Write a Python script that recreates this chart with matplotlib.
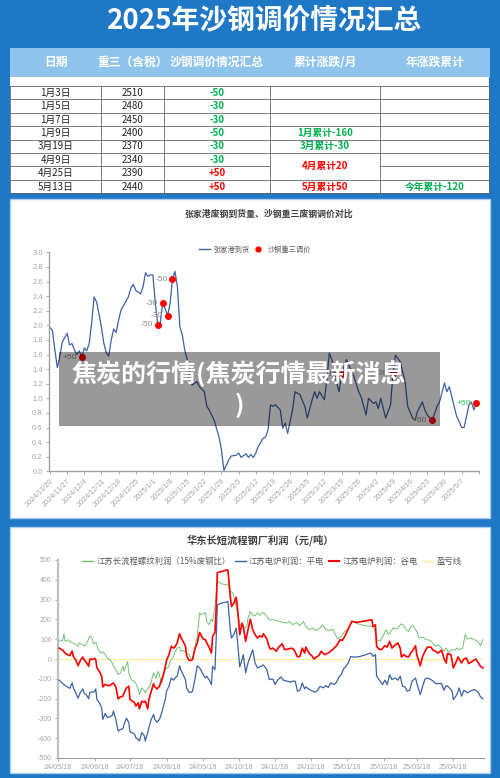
import pandas as pd
import matplotlib
matplotlib.use("Agg")
import matplotlib.pyplot as plt
from matplotlib.patches import Rectangle
from matplotlib.lines import Line2D

plt.rcParams['font.family'] = ['Noto Sans CJK SC', 'DejaVu Sans']

# ---- table data ----
title = "2025年沙钢调价情况汇总"
headers = ["日期", "重三（含税）", "沙钢调价情况汇总", "累计涨跌/月", "年涨跌累计"]
adj_dates = ["1月3日", "1月5日", "1月7日", "1月9日", "3月19日", "4月9日", "4月25日", "5月13日"]
adj_price = [2510, 2480, 2450, 2400, 2370, 2340, 2390, 2440]
adj_change = [-50, -30, -30, -50, -30, -30, 50, 50]
month_notes = ["", "", "", "1月累计-160", "3月累计-30", "4月累计20", None, "5月累计50"]  # None = merged with row above
year_notes = ["", "", "", "", "", "", "", "今年累计-120"]

# ---- chart 1: 张家港到货 (days after 2024-11-20) ----
zjg_days = [0, 1, 2, 3, 4, 5, 7, 8, 9, 10, 11, 12, 13, 14, 15, 16, 17, 18, 19, 20, 21, 22, 23, 24, 25, 26, 27, 28, 29, 30,
            32, 33, 34, 35, 37, 38, 39, 40, 41, 42, 43, 44, 45, 46, 47, 48, 49, 50, 51, 52, 53, 54, 55, 56, 57, 58, 60, 61,
            63, 64, 65, 67, 69, 70, 71, 73, 74, 76, 77, 78, 80, 81, 82, 83, 84, 85, 87, 88, 89, 90, 91, 92, 94, 95, 96, 97,
            99, 100, 102, 104, 105, 107, 108, 109, 110, 112, 113, 114, 115, 116, 117, 118, 119, 121, 124, 126, 127, 129,
            130, 132, 133, 134, 135, 137, 139, 140, 141, 143, 145, 146, 148, 149, 150, 152, 153, 154, 156, 158, 159, 161,
            162, 163, 164, 166, 167, 168, 169, 170, 171, 172, 173, 174]
zjg_vals = [1.97, 1.93, 1.66, 1.42, 1.57, 1.77, 1.89, 1.73, 1.75, 1.66, 1.60, 1.65, 1.56, 1.69, 1.65, 1.75, 2.03, 2.39,
            2.32, 2.16, 1.97, 1.75, 1.62, 1.58, 1.80, 1.95, 1.90, 2.07, 2.21, 2.27, 2.39, 2.51, 2.56, 2.48, 2.43, 2.53,
            2.72, 2.67, 2.69, 2.69, 2.30, 2.01, 2.03, 2.30, 2.23, 2.13, 2.30, 2.63, 2.74, 2.53, 1.98, 1.87, 1.66, 1.53,
            1.35, 1.18, 1.23, 1.16, 1.09, 0.89, 0.84, 0.70, 0.47, 0.29, 0.01, 0.16, 0.21, 0.22, 0.25, 0.19, 0.24, 0.19,
            0.23, 0.19, 0.25, 0.34, 0.45, 0.47, 0.57, 0.91, 0.89, 0.91, 0.84, 0.59, 0.66, 0.52, 0.84, 1.09, 1.05, 0.89,
            0.73, 0.98, 1.09, 1.00, 1.09, 0.98, 1.25, 1.62, 1.53, 1.41, 1.21, 1.09, 1.33, 1.53, 1.30, 1.09, 1.02, 0.77,
            1.00, 0.93, 0.95, 0.86, 1.00, 0.73, 0.91, 1.34, 1.59, 1.50, 1.21, 0.89, 0.73, 0.70, 0.82, 0.95, 0.84, 0.77,
            0.70, 0.89, 0.95, 1.21, 1.09, 1.16, 1.02, 0.75, 0.68, 0.60, 0.60, 0.75, 0.91, 0.95, 0.84, 0.93]
dot_days = [13, 44, 46, 48, 50, 119, 140, 156, 174]
dot_vals = [1.56, 2.01, 2.30, 2.13, 2.63, 1.33, 1.34, 0.70, 0.93]
dot_labels = ["+50", "-50", "-30", "-30", "-50", "-30", "-30", "+50", "+50"]

# ---- chart 2: 钢厂利润 (days after 2024-05-18) ----
near_days = [1, 4, 6, 8, 10, 12, 13, 15, 17, 19, 21, 22, 24, 26, 27, 29, 31, 32, 33, 35, 37, 38, 40, 42, 44, 46, 47, 49,
             51, 53, 55, 56, 58, 60, 61, 63, 65, 66, 68, 69, 71, 73, 74, 76, 77, 79, 81, 82, 84, 86, 87, 89, 91, 92, 94,
             96, 98, 99, 101, 103, 104, 106, 108, 109, 111, 113, 114, 116, 118, 120, 121, 123, 125, 126, 128, 130, 131,
             133, 134, 135, 138, 141, 144, 146, 147, 149, 151, 152, 154, 156, 157, 159, 161, 163, 165, 167, 169, 171,
             173, 174, 177, 179]
red_days = near_days + [180, 182, 185, 187, 190, 192, 195, 198, 200, 203, 205, 207, 209, 210, 213, 215, 217, 219, 221,
                        223, 226, 229, 232, 234, 236, 239, 241, 243, 245, 247, 249, 253, 256, 259, 263, 266, 267, 269,
                        270, 272, 274, 277, 279, 281, 283, 285, 288, 290, 291, 293, 295, 297, 299, 301, 303, 304, 307,
                        309, 311, 313, 316, 318, 320, 322, 325, 327, 329, 330, 333, 335, 337, 339, 342, 344, 346, 348,
                        351, 354, 356, 358, 360]
red_vals = [55, 44, 30, 22, 17, 40, 13, -3, -34, -7, 10, -3, -17, -37, 0, -3, 3, -3, -45, -62, -87, -141, -128, -134,
            -134, -124, -121, -141, -201, -191, -188, -171, -146, -138, -205, -213, -221, -238, -221, -252, -213, -218,
            -213, -252, -205, -163, -124, -141, -151, -138, -117, -87, -37, -7, 22, 64, 55, 60, 81, 128, 111, 89, 64,
            17, -7, -7, -3, 50, 81, 134, 123, 101, 97, 81, 60, 30, 114, 134, 248, 436, 441, 446, 450, 315, 265, 282,
            312, 265, 123, 181, 164, 89, 148, 201, 148, 123, 106, 117, 111, 128, 101, 60,
            50, 55, 39, 60, 77, 47, 50, 55, 47, 10, 13, 55, 30, 60, 27, 17, 0, 10, 17, 39, 22, 30, 44, 55, 67, 97, 94,
            114, 139, 164, 190, 185, 188, 191, 195, 198, 164, 173, 64, 50, 47, 67, 60, 89, 55, 67, 81, 55, 10, 22, 13,
            10, 30, 47, 67, 22, -34, 13, 39, 60, 60, 44, 39, 30, 44, 5, -20, 27, 22, -45, -20, 10, -20, 0, 5, -23,
            -12, 0, -17, -37, -45]
blue_days = near_days + [182, 184, 186, 189, 191, 194, 197, 199, 201, 203, 205, 207, 209, 210, 213, 216, 218, 220, 222,
                         225, 227, 229, 231, 234, 236, 238, 240, 242, 244, 246, 248, 250, 253, 256, 260, 263, 265, 267,
                         269, 270, 273, 275, 277, 279, 281, 283, 286, 288, 290, 292, 294, 296, 298, 300, 303, 304, 307,
                         309, 311, 313, 316, 318, 320, 322, 325, 327, 329, 331, 334, 335, 338, 340, 342, 344, 347, 349,
                         351, 353, 356, 358, 360]
blue_vals = [-107, -124, -134, -141, -148, -121, -146, -171, -198, -168, -151, -171, -181, -201, -168, -168, -164, -151,
             -205, -221, -247, -305, -275, -295, -292, -285, -263, -305, -364, -356, -352, -330, -299, -322, -369,
             -372, -381, -398, -406, -414, -372, -386, -414, -372, -347, -305, -280, -305, -319, -305, -289, -247,
             -201, -163, -138, -96, -107, -96, -87, -34, -54, -79, -104, -146, -168, -168, -163, -104, -34, -45, -54,
             -79, -96, -87, -104, -129, -37, -54, 97, 273, 282, 285, 290, 148, 106, 123, 156, 97, -40, -3, 22, -70,
             -20, 13, 47, -20, -45, -40, -34, -30, -54, -104,
             -101, -129, -107, -91, -107, -112, -117, -112, -112, -163, -158, -121, -151, -141, -154, -163, -168,
             -158, -138, -146, -134, -144, -121, -129, -117, -91, -79, -50, -37, -20, 13, 10, 10, 13, 20, 27, 30, 13,
             22, -87, -112, -129, -107, -129, -79, -104, -96, -107, -87, -138, -141, -163, -158, -112, -96, -121,
             -180, -138, -101, -96, -104, -112, -124, -124, -124, -158, -134, -141, -163, -205, -180, -146, -188,
             -158, -171, -163, -158, -154, -168, -191, -201]
green_days = [1, 4, 5, 6, 8, 10, 12, 14, 17, 18, 21, 23, 25, 27, 29, 30, 32, 34, 36, 38, 40, 42, 44, 46, 47, 49, 51, 53,
              55, 56, 59, 60, 62, 64, 66, 68, 69, 71, 73, 74, 76, 78, 79, 81, 83, 85, 86, 88, 90, 91, 94, 95, 98, 99,
              101, 103, 104, 106, 108, 109, 111, 113, 114, 116, 118, 120, 121, 123, 125, 126, 128, 130, 131, 133, 135,
              137, 139, 142, 144, 146, 148, 149, 151, 153, 155, 156, 158, 160, 161, 163, 165, 167, 169, 171, 173, 174,
              177, 179, 181, 185, 188, 191, 194, 196, 199, 202, 205, 208, 210, 213, 216, 218, 222, 224, 227, 230, 233,
              235, 237, 240, 243, 246, 249, 251, 254, 257, 261, 266, 268, 270, 273, 275, 278, 280, 282, 284, 287, 289,
              291, 293, 295, 297, 299, 301, 304, 306, 309, 312, 314, 317, 320, 322, 325, 327, 329, 331, 334, 336, 338,
              340, 343, 345, 347, 350, 353, 356, 358, 360]
green_vals = [90, 94, 128, 89, 97, 90, 81, 77, 64, 81, 70, 67, 87, 117, 104, 77, 84, 50, 30, 37, 22, 3, -3, -20, -37,
              -54, -79, -70, -37, -62, -12, -70, -104, -112, -124, -151, -180, -146, -158, -171, -151, -134, -112, -70,
              -96, -62, -84, -124, -70, -54, -37, -12, 13, 34, 55, 60, 39, 44, 34, 30, 22, 0, 3, 60, 114, 232, 223,
              228, 235, 190, 173, 201, 190, 265, 391, 386, 379, 376, 374, 341, 336, 315, 265, 206, 164, 173, 156, 164,
              206, 240, 223, 218, 232, 221, 232, 235, 215, 198,
              198, 195, 190, 185, 181, 190, 173, 185, 168, 190, 164, 148, 156, 144, 156, 173, 148, 144, 151, 123, 101,
              114, 139, 156, 190, 185, 178, 173, 168, 164, 156, 97, 89, 111, 148, 123, 139, 156, 151, 164, 178, 168,
              148, 139, 164, 168, 139, 106, 111, 97, 97, 84, 64, 72, 55, 39, 55, 34, 47, 44, 55, 47, 55, 123, 101, 106,
              97, 89, 67, 97]
breakeven = 0
legend2 = ["江苏长流程螺纹利润（15%废钢比）", "江苏电炉利润：平电", "江苏电炉利润：谷电", "盈亏线"]

overlay_text = "焦炭的行情(焦炭行情最新消息\n)"

W, H = 500, 778
BLUE_BG = "#1f78c6"
GREEN = "#00b050"
RED = "#ff0000"
GREY_TXT = "#a6a6a6"

fig = plt.figure(figsize=(5, 7.78), dpi=100)
fig.patch.set_facecolor(BLUE_BG)

bg = fig.add_axes([0, 0, 1, 1])
bg.set_xlim(0, W)
bg.set_ylim(H, 0)
bg.axis("off")

bg.text(265, 20, title, ha="center", va="center", color="white", fontsize=20, fontweight="bold")

# === table ===
cols = [10, 101, 164, 270, 380, 489]
bg.add_patch(Rectangle((10, 48), 480, 29, fc="#8ec4ec", ec="none"))
bg.add_patch(Rectangle((10, 77), 479, 116, fc="white", ec="none"))
for i, h in enumerate(headers):
    bg.text((cols[i] + cols[i + 1]) / 2, 62.5, h, ha="center", va="center", color="white",
            fontsize=8.5, fontweight="bold")

top0, rh = 86, 13.4
n = len(adj_dates)
for r in range(n + 1):
    y = top0 + r * rh
    if r < n and month_notes[r] is None:
        bg.plot([cols[0], cols[3]], [y, y], color="#666666", lw=0.6)
        bg.plot([cols[4], cols[5]], [y, y], color="#666666", lw=0.6)
    else:
        bg.plot([cols[0], cols[5]], [y, y], color="#666666", lw=0.6)
for x in cols:
    bg.plot([x, x], [top0, top0 + n * rh], color="#666666", lw=0.6)

for r in range(n):
    yc = top0 + (r + 0.5) * rh
    bg.text((cols[0] + cols[1]) / 2, yc, adj_dates[r], ha="center", va="center", fontsize=7, color="#222222")
    bg.text((cols[1] + cols[2]) / 2, yc, str(adj_price[r]), ha="center", va="center", fontsize=7, color="#222222")
    c = adj_change[r]
    bg.text((cols[2] + cols[3]) / 2, yc, f"{c:+d}", ha="center", va="center", fontsize=7,
            fontweight="bold", color=RED if c > 0 else GREEN)
    note = month_notes[r]
    if note:
        span = 2 if (r + 1 < n and month_notes[r + 1] is None) else 1
        bg.text((cols[3] + cols[4]) / 2, top0 + (r + span / 2) * rh, note, ha="center", va="center",
                fontsize=7, fontweight="bold", color=GREEN if "-" in note else RED)
    if year_notes[r]:
        bg.text((cols[4] + cols[5]) / 2, yc, year_notes[r], ha="center", va="center", fontsize=7,
                fontweight="bold", color=GREEN if "-" in year_notes[r] else RED)

# === panels ===
bg.add_patch(Rectangle((10, 199), 480, 319, fc="white", ec="#a8cdef", lw=1))
bg.add_patch(Rectangle((10, 527), 480, 246, fc="white", ec="#a8cdef", lw=1))

bg.text(269, 214, "张家港废钢到货量、沙钢重三废钢调价对比", ha="center", va="center",
        fontsize=6.4, fontweight="bold", color="#404040")
bg.text(260, 540, "华东长短流程钢厂利润（元/吨）", ha="center", va="center",
        fontsize=7.4, fontweight="bold", color="#404040")

# === chart 1 ===
start1 = pd.Timestamp("2024-11-20")
ax1 = fig.add_axes([49 / W, 1 - 471.3 / H, 430 / W, 219 / H])
ax1.patch.set_alpha(0)
x1 = start1 + pd.to_timedelta(zjg_days, unit="D")
ax1.plot(x1, zjg_vals, color="#3f62a3", lw=0.9)
xd = start1 + pd.to_timedelta(dot_days, unit="D")
ax1.plot(xd, dot_vals, "o", color="red", ms=4, ls="none")
for d, v, lab in zip(xd, dot_vals, dot_labels):
    col = "#22cc55" if d == xd[-1] else "#8c8c8c"
    ax1.annotate(lab, (d, v), xytext=(-3.5, 0), textcoords="offset points", ha="right", va="center",
                 fontsize=6, color=col, family="Liberation Sans")
ax1.set_xlim(start1 - pd.Timedelta(days=0.4), start1 + pd.Timedelta(days=175.1))
ax1.set_ylim(0, 3.0)
yt = [i / 10 for i in range(0, 31, 2)]
ax1.set_yticks(yt)
ax1.set_yticklabels([f"{v:.1f}" for v in yt], fontsize=5.5, color=GREY_TXT, family="Liberation Sans")
wk = pd.date_range(start1, periods=26, freq="7D")
ax1.set_xticks(wk)
ax1.set_xticklabels([f"{d.year}/{d.month}/{d.day}" for d in wk[:-1]] + [""], rotation=45,
                    ha="right", va="top", rotation_mode="anchor", fontsize=5.3, color=GREY_TXT,
                    family="Liberation Sans")
for s in ["top", "right"]:
    ax1.spines[s].set_visible(False)
for s in ["left", "bottom"]:
    ax1.spines[s].set_color("#a0a0a0")
    ax1.spines[s].set_linewidth(1)
ax1.tick_params(length=2.5, width=0.6, color="#a0a0a0", pad=2)
ax1.legend(handles=[Line2D([], [], color="#3f62a3", lw=1),
                    Line2D([], [], marker="o", ls="none", color="red", ms=3.5)],
           labels=["张家港到货", "沙钢重三调价"], loc="center", bbox_to_anchor=(255 / W, 1 - 250 / H),
           bbox_transform=fig.transFigure, ncol=2, frameon=False, fontsize=5.2, handlelength=1.5,
           handletextpad=0.5, columnspacing=0.4, borderpad=0, labelcolor="#595959")

# === chart 2 ===
start2 = pd.Timestamp("2024-05-18")
ax2 = fig.add_axes([58 / W, 1 - 758 / H, 426 / W, 198 / H])
ax2.patch.set_alpha(0)
ax2.axhline(breakeven, color="#f3eea0", lw=0.7, zorder=1)
ax2.plot(start2 + pd.to_timedelta(green_days, unit="D"), green_vals, color="#72c172", lw=0.7, zorder=2)
ax2.plot(start2 + pd.to_timedelta(blue_days, unit="D"), blue_vals, color="#3b63a6", lw=0.9, zorder=3)
ax2.plot(start2 + pd.to_timedelta(red_days, unit="D"), red_vals, color=RED, lw=1.2, zorder=4)
ax2.set_xlim(start2, start2 + pd.Timedelta(days=361))
ax2.set_ylim(-500, 500)
yt2 = list(range(-500, 501, 100))
ax2.set_yticks(yt2)
ax2.set_yticklabels([str(v) for v in yt2], fontsize=5, color=GREY_TXT, family="Liberation Sans")
mt = pd.date_range(start2, periods=12, freq=pd.DateOffset(months=1))
ax2.set_xticks(mt)
ax2.set_xticklabels([d.strftime("%y/%m/%d") for d in mt], fontsize=5.2, color=GREY_TXT,
                    family="Liberation Sans")
for s in ["top", "right"]:
    ax2.spines[s].set_visible(False)
ax2.spines["left"].set_color("#bfbfbf")
ax2.spines["left"].set_linewidth(1.6)
ax2.spines["bottom"].set_color("#a0a0a0")
ax2.spines["bottom"].set_linewidth(0.8)
ax2.tick_params(length=2.5, width=0.6, color="#a0a0a0", pad=2)
ax2.legend(handles=[Line2D([], [], color="#72c172", lw=1), Line2D([], [], color="#3b63a6", lw=1),
                    Line2D([], [], color=RED, lw=1.5), Line2D([], [], color="#f3eea0", lw=1)],
           labels=legend2, loc="center", bbox_to_anchor=(272 / W, 1 - 561 / H),
           bbox_transform=fig.transFigure, ncol=4, frameon=False, fontsize=6, handlelength=1.3,
           handletextpad=0.4, columnspacing=0.5, borderpad=0, labelcolor="#595959")

# === overlay banner ===
ov = fig.add_axes([0, 0, 1, 1], zorder=10)
ov.set_xlim(0, W)
ov.set_ylim(H, 0)
ov.axis("off")
ov.add_patch(Rectangle((59, 352), 381, 74, fc="black", alpha=0.4, ec="none"))
ov.text(239, 389, overlay_text, ha="center", va="center", multialignment="center", color="white",
        fontsize=18, fontweight="bold", linespacing=1.3)

fig.savefig("out.png", dpi=100, facecolor=fig.get_facecolor())
